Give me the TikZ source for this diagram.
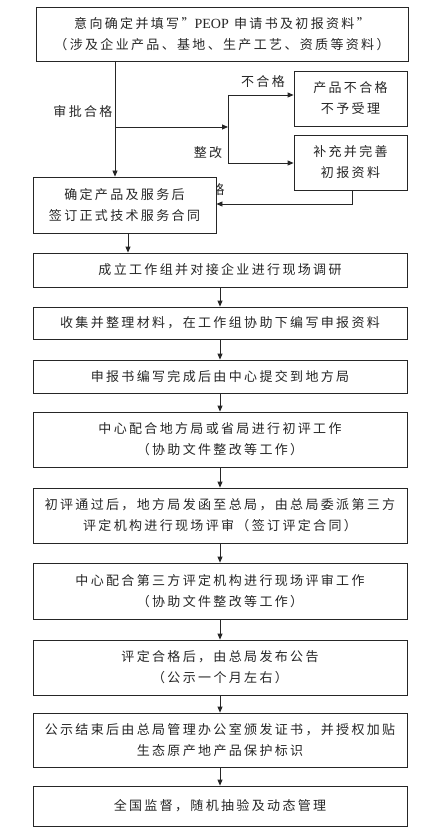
\documentclass[tikz,border=0pt]{standalone}
\usepackage{fontspec}
\setmainfont{Noto Sans CJK SC}[LetterSpace=18]
\newfontfamily\latinserif{Liberation Serif}
\usetikzlibrary{arrows.meta}
\begin{document}
\begin{tikzpicture}[x=1pt,y=1pt,
  every node/.style={font=\fontsize{13}{21}\selectfont, text=black!85},
  box/.style={draw=black!85, line width=0.8pt, fill=white, align=center, inner sep=0pt},
  arr/.style={-{Triangle[length=6pt,width=5pt]}, line width=0.8pt, draw=black!85},
  ln/.style={line width=0.8pt, draw=black!85},
  lbl/.style={inner sep=0pt}]
\useasboundingbox (0,0) rectangle (434,-834);
% stray label partly hidden by box2
\node[lbl] (g) at (218,-190) {格};
\node[box, minimum width=372, minimum height=54] (b1) at (222,-34)
  {意向确定并填写”{\latinserif\fontsize{14}{21}\selectfont PEOP} 申请书及初报资料”\\（涉及企业产品、基地、生产工艺、资质等资料）};
\node[box, minimum width=183, minimum height=56] (b2) at (124.5,-205)
  {确定产品及服务后\\签订正式技术服务合同};
\node[box, minimum width=113, minimum height=55] (b3) at (350.5,-98.5)
  {产品不合格\\不予受理};
\node[box, minimum width=113, minimum height=55] (b4) at (350.5,-162.5)
  {补充并完善\\初报资料};
\node[box, minimum width=374, minimum height=34] (b5) at (220,-270)
  {成立工作组并对接企业进行现场调研};
\node[box, minimum width=374, minimum height=32] (b6) at (220,-323)
  {收集并整理材料，在工作组协助下编写申报资料};
\node[box, minimum width=374, minimum height=33] (b7) at (220,-376.5)
  {申报书编写完成后由中心提交到地方局};
\node[box, minimum width=374, minimum height=55] (b8) at (220,-439.5)
  {中心配合地方局或省局进行初评工作\\（协助文件整改等工作）};
\node[box, minimum width=374, minimum height=55] (b9) at (220,-515.5)
  {初评通过后，地方局发函至总局，由总局委派第三方\\评定机构进行现场评审（签订评定合同）};
\node[box, minimum width=374, minimum height=56] (b10) at (220,-591)
  {中心配合第三方评定机构进行现场评审工作\\（协助文件整改等工作）};
\node[box, minimum width=374, minimum height=55] (b11) at (220,-667.5)
  {评定合格后，由总局发布公告\\（公示一个月左右）};
\node[box, minimum width=374, minimum height=54] (b12) at (220,-740)
  {公示结束后由总局管理办公室颁发证书，并授权加贴\\生态原产地产品保护标识};
\node[box, minimum width=374, minimum height=40] (b13) at (220,-806)
  {全国监督，随机抽验及动态管理};
% labels
\node[lbl] (l1) at (83,-112) {审批合格};
\node[lbl] (l2) at (263,-82) {不合格};
\node[lbl] (l3) at (208,-153) {整改};
% connectors
\coordinate (s1) at (115,-61);
\coordinate (j0) at (115,-127);
\coordinate (j1) at (228,-127);
\coordinate (ja) at (228,-95);
\coordinate (jb) at (228,-163);
\coordinate (k1) at (352,-204);
\draw[arr] (s1) -- (s1 |- b2.north);
\draw[arr] (j0) -- (j1);
\draw[ln] (ja) -- (jb);
\draw[arr] (ja) -- (ja -| b3.west);
\draw[arr] (jb) -- (jb -| b4.west);
\draw[arr] (k1 |- b4.south) -- (k1) -- (k1 -| b2.east);
\coordinate (s2) at (128,0);
\draw[arr] (s2 |- b2.south) -- (s2 |- b5.north);
\draw[arr] (b5) -- (b6);
\draw[arr] (b6) -- (b7);
\draw[arr] (b7) -- (b8);
\draw[arr] (b8) -- (b9);
\draw[arr] (b9) -- (b10);
\draw[arr] (b10) -- (b11);
\draw[arr] (b11) -- (b12);
\draw[arr] (b12) -- (b13);
\end{tikzpicture}
\end{document}
